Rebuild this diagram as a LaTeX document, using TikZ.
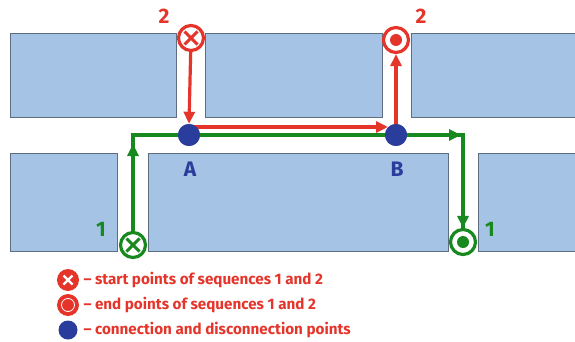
\documentclass[tikz,border=0pt]{standalone}
\usepackage{fontspec}
\setmainfont{Fira Sans}
\usetikzlibrary{arrows.meta,calc}
\definecolor{blk}{HTML}{A5C3E5}
\definecolor{blkb}{HTML}{5E6E80}
\definecolor{rd}{HTML}{E5352B}
\definecolor{gr}{HTML}{17891F}
\definecolor{bl}{HTML}{2A3C9C}
\tikzset{
  block/.style={fill=blk,draw=blkb,line width=0.8pt},
  ring/.style={circle,draw=#1,line width=3.2pt,fill=white,minimum size=25pt,inner sep=0pt},
  conn/.style={circle,fill=bl,minimum size=22pt,inner sep=0pt},
  trail/.style={draw=#1,line width=3.2pt},
  tip/.style={-{Triangle[length=12pt,width=11pt]}},
  lbl/.style={font=\fontsize{21}{21}\selectfont\bfseries,text=#1},
  leg/.style={font=\fontsize{15.2}{15.2}\selectfont\bfseries,text=rd,anchor=west}
}
\begin{document}
\begin{tikzpicture}[x=1pt,y=-1pt]
\useasboundingbox (0,0) rectangle (575,342);
% top blocks
\path[block] (10,33) rectangle (176,117);
\path[block] (205,33) rectangle (382,117);
\path[block] (411,33) rectangle (580,117);
% bottom blocks
\path[block] (10,153) rectangle (117,251);
\path[block] (148,153) rectangle (448,251);
\path[block] (478,153) rectangle (580,251);

% points
\node[conn] (A) at (189,135) {};
\node[conn] (B) at (396,135) {};
\node[ring=rd] (s2) at (191,38) {};
\node[ring=rd] (e2) at (396,40) {};
\node[circle,fill=rd,minimum size=12pt,inner sep=0pt] at (e2) {};
\node[ring=gr] (s1) at (133,245) {};
\node[ring=gr] (e1) at (463,242) {};
\node[circle,fill=gr,minimum size=12pt,inner sep=0pt] at (e1) {};
\coordinate (g1) at (133,135);
\coordinate (g2) at (463,135);

% green sequence 1
\draw[trail=gr] (s1) -- (g1) -- (g2) -- (e1);
\draw[trail=gr,tip] (s1) -- ($(g1)+(0,9)$);
\draw[trail=gr,tip] (B.east) -- ($(g2)+(-2,0)$);
\draw[trail=gr,tip] (g2) -- (e1.north);

% red sequence 2
\draw[trail=rd,tip] (s2) -- (A.north);
\draw[trail=rd,tip] ($(A)+(0,-8)$) -- ($(B)+(-8,-8)$);
\draw[trail=rd,tip] (B.center) -- (e2.south);
\node[conn] at (A) {};
\node[conn] at (B) {};

% crosses in start rings
\foreach \n/\c in {s2/rd,s1/gr}{
  \draw[\c,line width=3pt] ($(\n.center)+(-6.5,-6.5)$) -- ($(\n.center)+(6.5,6.5)$);
  \draw[\c,line width=3pt] ($(\n.center)+(-6.5,6.5)$) -- ($(\n.center)+(6.5,-6.5)$);
}

% labels
\node[lbl=rd] (l2a) at (164,16) {2};
\node[lbl=rd] (l2b) at (421,16) {2};
\node[lbl=gr] (l1a) at (101,229) {1};
\node[lbl=gr] (l1b) at (490,229) {1};
\node[lbl=bl] (lA) at (190,169) {A};
\node[lbl=bl] (lB) at (397,169) {B};

% legend
\node[circle,fill=rd,minimum size=22pt,inner sep=0pt] (ic1) at (68,280) {};
\draw[white,line width=2.2pt] ($(ic1)+(-4.5,-4.5)$) -- ($(ic1)+(4.5,4.5)$) ($(ic1)+(-4.5,4.5)$) -- ($(ic1)+(4.5,-4.5)$);
\node[leg] (t1) at (80,280) {– start points of sequences 1 and 2};
\node[circle,fill=rd,minimum size=22pt,inner sep=0pt] (ic2) at (68,305) {};
\draw[white,line width=0.8pt] (ic2) circle (6.5pt);
\node[leg] (t2) at (80,305) {– end points of sequences 1 and 2};
\node[circle,fill=bl,minimum size=19pt,inner sep=0pt] (ic3) at (68,330) {};
\node[leg] (t3) at (80,330) {– connection and disconnection points};
\end{tikzpicture}
\end{document}
